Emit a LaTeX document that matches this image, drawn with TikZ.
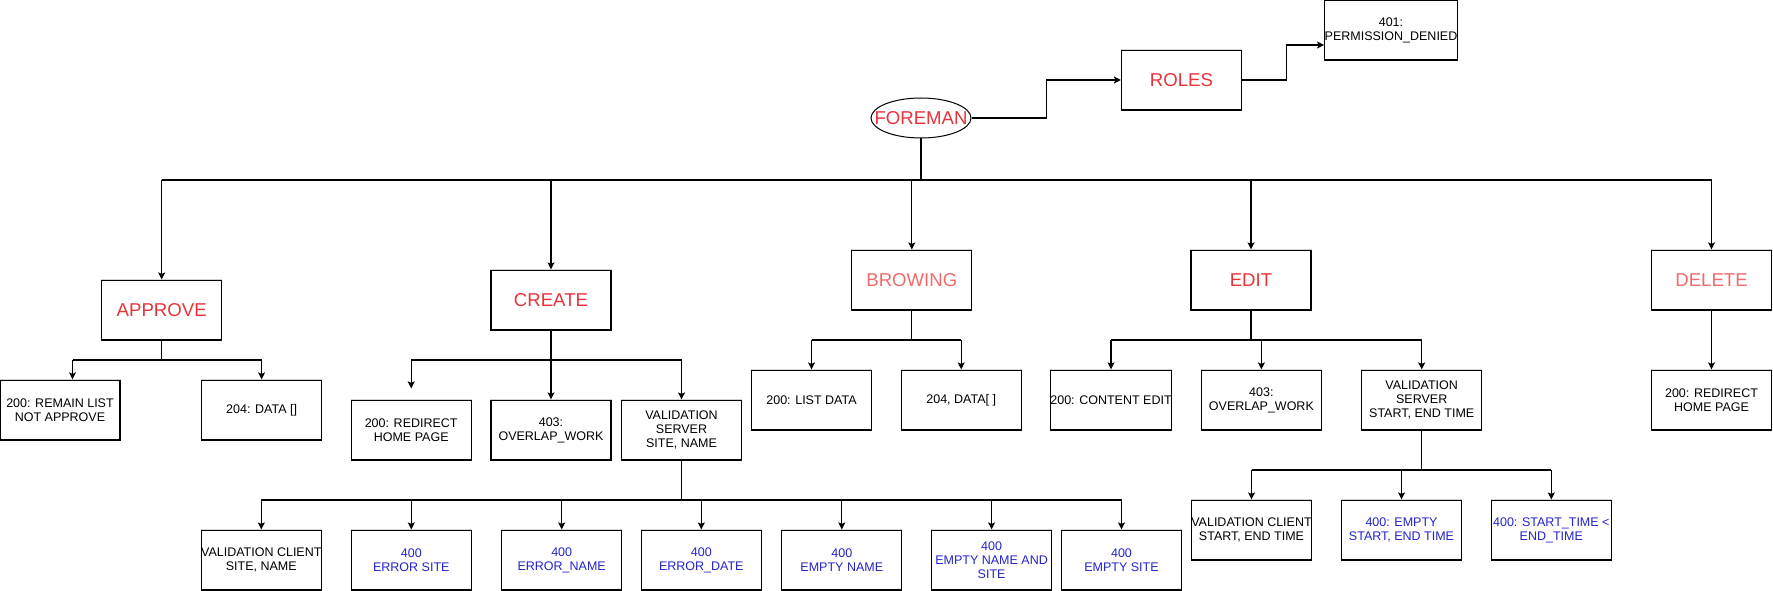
\documentclass[tikz,border=0pt]{standalone}
\usepackage{fontspec}
\setmainfont{Liberation Sans}
\usetikzlibrary{shapes.geometric,arrows.meta}
\definecolor{tred}{HTML}{E8333A}
\definecolor{lred}{HTML}{F06A6A}
\definecolor{tblue}{HTML}{2323CC}
\begin{document}
\begin{tikzpicture}[x=1pt,y=-1pt,
  box/.style={draw=black, line width=1.2pt, minimum width=120pt, minimum height=60pt,
    inner sep=0pt, align=center, font=\fontsize{12.5}{13.8}\selectfont, text=black},
  title/.style={box, font=\fontsize{18.6}{20}\selectfont, text=tred},
  ltitle/.style={title, text=lred},
  err/.style={box, text=tblue},
  line/.style={line width=1.2pt},
  arr/.style={line, -{Stealth[length=7pt,width=7pt,inset=1.5pt]}}]
\fill[white] (0,0) rectangle (1773,591);
\useasboundingbox (0,0) rectangle (1773,591);

% top
\node[ellipse, draw=black, line width=1pt, minimum width=100pt, minimum height=40pt, inner sep=0pt,
  font=\fontsize{18.6}{20}\selectfont, text=tred] (foreman) at (921,118) {\makebox[0pt]{FOREMAN}};
\node[title] (roles) at (1181.5,80) {ROLES};
\node[box] (deny) at (1391,30) {401:\\PERMISSION\_DENIED};

% level 1
\node[title] (approve) at (161.7,310) {APPROVE};
\node[title] (create) at (551,300) {CREATE};
\node[ltitle] (browing) at (911.8,280) {BROWING};
\node[title] (edit) at (1251,280) {EDIT};
\node[ltitle] (delete) at (1711.5,280) {DELETE};

% level 2
\node[box] (a1) at (60,410) {200: REMAIN LIST\\NOT APPROVE};
\node[box] (a2) at (261.6,410) {204: DATA []};
\node[box] (c1) at (411.2,430) {200: REDIRECT\\HOME PAGE};
\node[box] (c2) at (551,430) {403:\\OVERLAP\_WORK};
\node[box] (c3) at (681.5,430) {VALIDATION\\SERVER\\SITE, NAME};
\node[box] (b1) at (811.5,400) {200: LIST DATA};
\node[box] (b2) at (961.2,400) {204, DATA[ ]};
\node[box] (e1) at (1111,400) {200: CONTENT EDIT};
\node[box] (e2) at (1261.4,400) {403:\\OVERLAP\_WORK};
\node[box] (e3) at (1421.7,400) {VALIDATION\\SERVER\\START, END TIME};
\node[box] (d1) at (1711.5,400) {200: REDIRECT\\HOME PAGE};

% level 3
\node[box] (v1) at (261.3,560) {VALIDATION CLIENT\\SITE, NAME};
\node[err] (v2) at (411.3,560) {400\\ERROR SITE};
\node[err] (v3) at (561.7,560) {400\\ERROR\_NAME};
\node[err] (v4) at (701.3,560) {400\\ERROR\_DATE};
\node[err] (v5) at (841.8,560) {400\\EMPTY NAME};
\node[err] (v6) at (991.6,560) {400\\EMPTY NAME AND\\SITE};
\node[err] (v7) at (1121.5,560) {400\\EMPTY SITE};
\node[box] (w1) at (1251.5,530) {VALIDATION CLIENT\\START, END TIME};
\node[err] (w2) at (1401.5,530) {400: EMPTY\\START, END TIME};
\node[err] (w3) at (1551.3,530) {400: START\_TIME \textless\\END\_TIME};

% light top edges
\foreach \n in {roles,deny,approve,create,browing,edit,delete,a1,a2,c1,c2,c3,b1,b2,e1,e2,e3,d1,v1,v2,v3,v4,v5,v6,v7,w1,w2,w3}
  \draw[gray!35, line width=1.2pt] (\n.north west) -- (\n.north east);

% bus levels
\coordinate (L1) at (0,180);
\coordinate (L2a) at (0,360);
\coordinate (L2b) at (0,340);
\coordinate (L3a) at (0,500);
\coordinate (L3b) at (0,470);

% foreman connectors
\draw[arr] (foreman.east) -- ++(75,0) |- (roles.west);
\draw[arr] (roles.east) -- ++(44.5,0) |- ([yshift=-15pt]deny.west);
\draw[line] (foreman.south) -- (foreman.south |- L1);
\draw[line] (approve.north |- L1) -- (delete.north |- L1);
\foreach \n in {approve,create,browing,edit,delete}
  \draw[arr] (\n.north |- L1) -- (\n.north);

% approve
\coordinate (a1t) at ([xshift=12.5pt]a1.north);
\draw[line] (approve.south) -- (approve.south |- L2a);
\draw[line] (a1t |- L2a) -- (a2.north |- L2a);
\draw[arr] (a1t |- L2a) -- (a1t);
\draw[arr] (a2.north |- L2a) -- (a2.north);

% create
\draw[line] (create.south) -- (create.south |- L2a);
\draw[line] (c1.north |- L2a) -- (c3.north |- L2a);
\draw[arr, shorten >=11pt] (c1.north |- L2a) -- (c1.north);
\draw[arr] (c2.north |- L2a) -- (c2.north);
\draw[arr] (c3.north |- L2a) -- (c3.north);

% browing
\draw[line] (browing.south) -- (browing.south |- L2b);
\draw[line] (b1.north |- L2b) -- (b2.north |- L2b);
\foreach \n in {b1,b2} \draw[arr] (\n.north |- L2b) -- (\n.north);

% edit
\draw[line] (edit.south) -- (edit.south |- L2b);
\draw[line] (e1.north |- L2b) -- (e3.north |- L2b);
\foreach \n in {e1,e2,e3} \draw[arr] (\n.north |- L2b) -- (\n.north);

% delete
\draw[arr] (delete.south) -- (d1.north);

% create validation
\draw[line] (c3.south) -- (c3.south |- L3a);
\draw[line] (v1.north |- L3a) -- (v7.north |- L3a);
\foreach \n in {v1,v2,v3,v4,v5,v6,v7} \draw[arr] (\n.north |- L3a) -- (\n.north);

% edit validation
\draw[line] (e3.south) -- (e3.south |- L3b);
\draw[line] (w1.north |- L3b) -- (w3.north |- L3b);
\foreach \n in {w1,w2,w3} \draw[arr] (\n.north |- L3b) -- (\n.north);
\end{tikzpicture}
\end{document}
